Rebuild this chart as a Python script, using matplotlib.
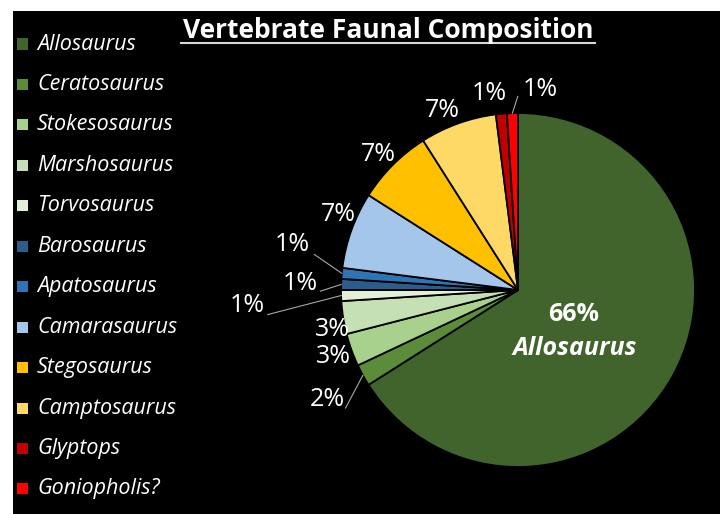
import numpy as np
import matplotlib
matplotlib.use('Agg')
import matplotlib.pyplot as plt
from matplotlib.patches import Rectangle

# data (percent of vertebrate remains)
taxa = ['Allosaurus', 'Ceratosaurus', 'Stokesosaurus', 'Marshosaurus', 'Torvosaurus',
        'Barosaurus', 'Apatosaurus', 'Camarasaurus', 'Stegosaurus', 'Camptosaurus',
        'Glyptops', 'Goniopholis?']
percents = [66, 2, 3, 3, 1, 1, 1, 7, 7, 7, 1, 1]
colors = ['#41632C', '#5B8C3A', '#A9D18E', '#C5E0B4', '#E2F0D9',
          '#2A5C8C', '#2E75B6', '#A4C6EA', '#FFC000', '#FFD966',
          '#C00000', '#FF0000']

# label placement: radius (in pie radii) and angle nudge (degrees)
label_r = [0.46, 1.24, 1.11, 1.07, 1.53, 1.23, 1.30, 1.10, 1.10, 1.10, 1.12, 1.14]
label_da = [0, 1, 0, 3, 1.5, 0, -6, -3, 1, 3, 3, -8]
# leader line start, offset from label centre in pixels (None = no line)
leader = [None, (18, -9), None, None, (20, -9), (20, -8), (22, -10), None, None, None, None, (-22, -7)]

W, H = 720, 514
fig = plt.figure(figsize=(W / 100, H / 100), dpi=100, facecolor='white')
fig.patches.append(Rectangle((13 / W, 0), 1, (H - 11) / H, transform=fig.transFigure,
                             facecolor='black', edgecolor='none', zorder=-10))

R = 177.0
cx, cy = 518, 290
ax = fig.add_axes([0, 0, 1, 1])
ax.patch.set_visible(False)
wedges, _ = ax.pie(percents, colors=colors, startangle=90, counterclock=False,
                   radius=1.0, wedgeprops=dict(edgecolor='black', linewidth=1.3))
ax.set_aspect('auto')
ax.set_xlim(-cx / R, (W - cx) / R)
ax.set_ylim(-(H - cy) / R, cy / R)
ax.axis('off')

fam = ['Open Sans', 'DejaVu Sans']
cum = np.cumsum([0] + percents)
for i, p in enumerate(percents):
    mid = 90 - (cum[i] + p / 2) / 100 * 360
    a = np.deg2rad(mid + label_da[i])
    x, y = label_r[i] * np.cos(a), label_r[i] * np.sin(a)
    if i == 0:
        ax.text(x - 0.09, y + 0.085, f'{p}%', ha='center', va='center', color='white',
                fontsize=18, fontweight='bold', family=fam)
        ax.text(x - 0.08, y - 0.11, taxa[0], ha='center', va='center', color='white',
                fontsize=18, fontweight='bold', style='italic', family=fam)
        continue
    ax.text(x, y, f'{p}%', ha='center', va='center', color='white', fontsize=18, family=fam)
    if leader[i] is not None:
        am = np.deg2rad(mid)
        x0, y0 = np.cos(am), np.sin(am)
        ex, ey = x + leader[i][0] / R, y + leader[i][1] / R
        ax.plot([ex, x0], [ey, y0], color='#A6A6A6', lw=0.8)

# legend drawn by hand, one row per taxon
for i, (name, c) in enumerate(zip(taxa, colors)):
    yy = 1 - (44 + i * 40.45) / H
    fig.patches.append(Rectangle((17 / W, yy - 5.5 / H), 11 / W, 11 / H,
                                 transform=fig.transFigure, facecolor=c, edgecolor='none'))
    fig.text(37 / W, yy, name, ha='left', va='center', color='white', fontsize=15.5,
             style='italic', family=fam)

fig.text(388 / W, 1 - 31 / H, 'Vertebrate Faunal Composition', ha='center', va='center',
         color='white', fontsize=19, fontweight='bold', family=fam)
fig.add_artist(plt.Line2D([181 / W, 595 / W], [1 - 43 / H, 1 - 43 / H], color='#D9D9D9', lw=1.5))

fig.savefig('out.png', dpi=100, facecolor=fig.get_facecolor())
